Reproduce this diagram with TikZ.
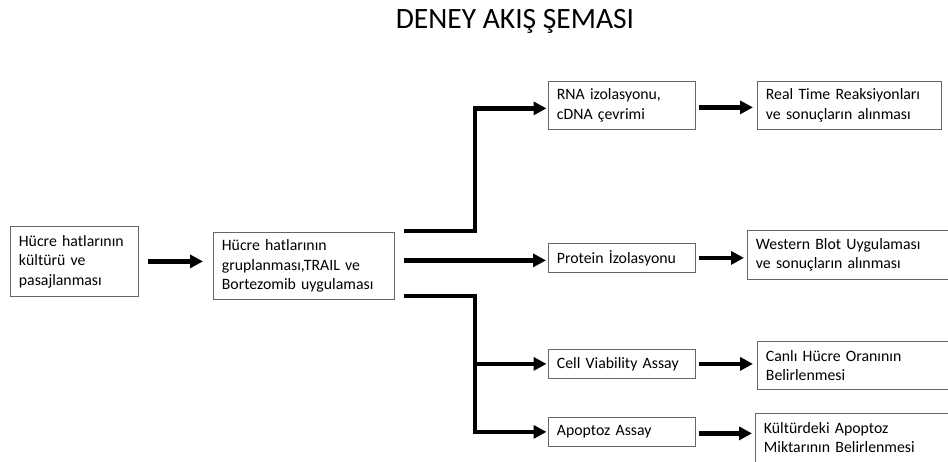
\documentclass[tikz,border=0pt]{standalone}
\usepackage{fontspec}
\setmainfont{Carlito}
\usetikzlibrary{arrows.meta}
\begin{document}
\begin{tikzpicture}[x=1pt,y=-1pt,
  box/.style={draw=black!60, line width=0.8pt, anchor=north west, align=left,
    inner xsep=8.5pt, inner ysep=0pt, font=\fontsize{15.8}{19.5}\selectfont},
  arr/.style={line width=4.5pt, -{Triangle[length=13pt,width=13pt]}}]
\useasboundingbox (0,0) rectangle (948,462);
\node[anchor=base, font=\fontsize{29.5}{34}\selectfont] (title) at (515,29) {DENEY AKIŞ ŞEMASI};
% boxes
\node[box, minimum width=128pt, minimum height=70pt, text width=111pt] (b1) at (10,226) {Hücre hatlarının\\kültürü ve\\pasajlanması};
\node[box, minimum width=181pt, minimum height=67pt, text width=164pt] (b2) at (213,232) {Hücre hatlarının\\gruplanması,TRAIL ve\\Bortezomib uygulaması};
\node[box, minimum width=147pt, minimum height=48pt, text width=130pt] (rna) at (548,81) {RNA izolasyonu,\\cDNA çevrimi};
\node[box, minimum width=184pt, minimum height=48pt, text width=167pt] (real) at (757,81) {Real Time Reaksiyonları\\ve sonuçların alınması};
\node[box, minimum width=147pt, minimum height=29pt, text width=130pt] (prot) at (548,243) {Protein İzolasyonu};
\node[box, minimum width=202pt, minimum height=49pt, text width=185pt] (west) at (747,230) {Western Blot Uygulaması\\ve sonuçların alınması};
\node[box, minimum width=147pt, minimum height=29pt, text width=130pt] (cell) at (548,349) {Cell Viability Assay};
\node[box, minimum width=192pt, minimum height=48pt, text width=175pt] (canli) at (757,341) {Canlı Hücre Oranının\\Belirlenmesi};
\node[box, minimum width=147pt, minimum height=29pt, text width=130pt] (apo) at (548,417) {Apoptoz Assay};
\node[box, minimum width=194pt, minimum height=48.5pt, text width=177pt] (kult) at (755,413) {Kültürdeki Apoptoz\\Miktarının Belirlenmesi};
% connectors
\coordinate (vx) at (475,0);
\coordinate (s1) at ([xshift=9pt,yshift=1pt]b2.north east);
\coordinate (s2) at ([xshift=9pt,yshift=5.5pt]b2.east);
\coordinate (s3) at ([xshift=9pt,yshift=4pt]b2.south east);
\draw[arr, shorten <=9pt, shorten >=10pt] (b1.east) -- (b1.east -| b2.west);
\draw[arr, shorten >=1.5pt] (s1) -- (s1 -| vx) |- ([yshift=-3pt]rna.west);
\draw[arr, shorten >=2pt] (s2) -- (s2 -| prot.west);
\draw[arr, shorten >=1.5pt] (s3) -- (s3 -| vx) |- (apo.west);
\draw[arr, shorten >=1.5pt] (vx |- cell.west) -- (cell.west);
\draw[arr, shorten <=3pt, shorten >=4pt] ([yshift=-2pt]rna.east) -- ([yshift=-2pt]rna.east -| real.west);
\draw[arr, shorten <=3pt, shorten >=3pt] (prot.east) -- (prot.east -| west.west);
\draw[arr, shorten <=3pt, shorten >=4pt] (cell.east) -- (cell.east -| canli.west);
\draw[arr, shorten <=3pt, shorten >=3pt] ([yshift=-1.5pt]apo.east) -- ([yshift=-1.5pt]apo.east -| kult.west);
\end{tikzpicture}
\end{document}
